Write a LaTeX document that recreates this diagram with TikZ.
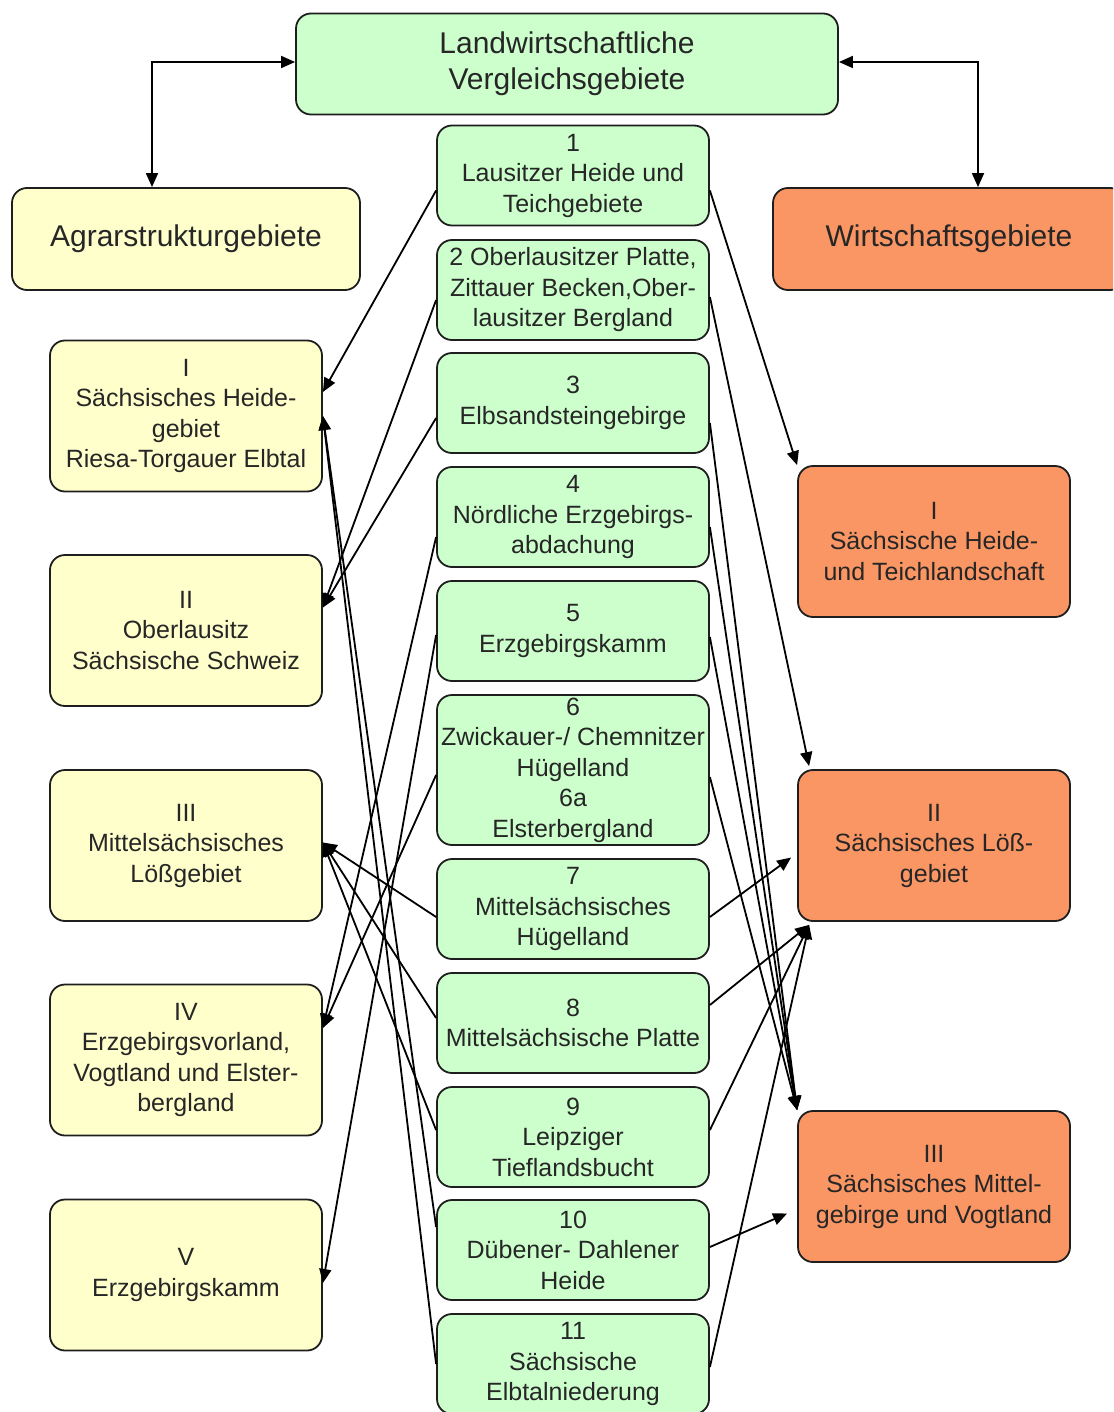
\documentclass[tikz,border=0pt]{standalone}
\usepackage{fontspec}
\setmainfont{Liberation Sans}
\usetikzlibrary{arrows.meta}
\tikzstyle{pixelGrid} = [x = 1pt, y = -1pt]
\definecolor{vergleichGreen}{RGB}{204,255,204}
\definecolor{agrarYellow}{RGB}{255,255,204}
\definecolor{wirtschaftOrange}{RGB}{250,150,100}
\definecolor{borderColor}{RGB}{30,30,30}
\tikzstyle{boxStyle} = [draw=borderColor, line width=1.8pt, rounded corners=15pt, align=center, inner sep=0pt, text=black!85, font=\fontsize{25}{30.5}\selectfont, minimum width=272pt, minimum height=100pt]
\tikzstyle{headStyle} = [boxStyle, font=\fontsize{30}{36}\selectfont, minimum height=101pt]
\tikzstyle{middleStyle} = [boxStyle, fill=vergleichGreen]
\tikzstyle{agrarStyle} = [boxStyle, fill=agrarYellow, minimum height=151pt]
\tikzstyle{wirtschaftStyle} = [boxStyle, fill=wirtschaftOrange, minimum height=151pt]
\tikzstyle{linkLine} = [draw=black, line width=1.8pt, -{Triangle[length=14pt,width=12pt]}]
\tikzstyle{linkBoth} = [draw=black, line width=1.8pt, {Triangle[length=14pt,width=12pt]}-{Triangle[length=14pt,width=12pt]}]
\newcommand{\middleBox}[3]{\node [middleStyle] (#1) at (573, #2) {#3};}
\newcommand{\agrarBox}[3]{\node [agrarStyle] (#1) at (186, #2) {#3};}
\newcommand{\wirtschaftBox}[3]{\node [wirtschaftStyle] (#1) at (934, #2) {#3};}
\newcommand{\linkArrow}[2]{\draw [linkLine] (#1) -- (#2);}

\begin{document}
\begin{tikzpicture}[pixelGrid]
  \useasboundingbox (0,0) rectangle (1113,1412);
  \clip (0,0) rectangle (1113,1412);

  % headers
  \node [headStyle, fill=vergleichGreen, minimum width=542pt] (vergleich) at (567, 64) {Landwirtschaftliche\\Vergleichsgebiete};
  \node [headStyle, fill=agrarYellow, minimum width=348pt, minimum height=102pt] (agrar) at (186, 239) {Agrarstrukturgebiete};
  \node [headStyle, fill=wirtschaftOrange, minimum width=352pt, minimum height=102pt] (wirt) at (949, 239) {Wirtschaftsgebiete};
  \draw [linkBoth] ([yshift=2pt]vergleich.west) -| ([xshift=-34pt]agrar.north);
  \draw [linkBoth] ([yshift=2pt]vergleich.east) -| ([xshift=29pt]wirt.north);

  % Vergleichsgebiete
  \middleBox{m1}{175.5}{1\\Lausitzer Heide und\\Teichgebiete}
  \middleBox{m2}{290}{2 Oberlausitzer Platte,\\Zittauer Becken,Ober-\\lausitzer Bergland}
  \middleBox{m3}{403}{3\\Elbsandsteingebirge}
  \middleBox{m4}{517}{4\\Nördliche Erzgebirgs-\\abdachung}
  \middleBox{m5}{631}{5\\Erzgebirgskamm}
  \node [middleStyle, minimum height=150pt] (m6) at (573, 770) {6\\Zwickauer-/ Chemnitzer\\Hügelland\\6a\\Elsterbergland};
  \middleBox{m7}{909}{7\\Mittelsächsisches\\Hügelland}
  \middleBox{m8}{1023}{8\\Mittelsächsische Platte}
  \middleBox{m9}{1137}{9\\Leipziger\\Tieflandsbucht}
  \middleBox{m10}{1250}{10\\Dübener- Dahlener\\Heide}
  \middleBox{m11}{1364}{11\\Sächsische\\Elbtalniederung}

  % Agrarstrukturgebiete
  \agrarBox{lI}{416}{I\\Sächsisches Heide-\\gebiet\\Riesa-Torgauer Elbtal}
  \agrarBox{lII}{630.5}{II\\Oberlausitz\\Sächsische Schweiz}
  \agrarBox{lIII}{845.5}{III\\Mittelsächsisches\\Lößgebiet}
  \agrarBox{lIV}{1060}{IV\\Erzgebirgsvorland,\\Vogtland und Elster-\\bergland}
  \agrarBox{lV}{1275}{V\\Erzgebirgskamm}

  % Wirtschaftsgebiete
  \wirtschaftBox{rI}{541.5}{I\\Sächsische Heide-\\und Teichlandschaft}
  \wirtschaftBox{rII}{845.5}{II\\Sächsisches Löß-\\gebiet}
  \wirtschaftBox{rIII}{1186.5}{III\\Sächsisches Mittel-\\gebirge und Vogtland}

  % links to the left
  \linkArrow{[yshift=-15pt]m1.west}{[yshift=24pt]lI.east}
  \linkArrow{[yshift=23pt]m10.west}{lI.east}
  \linkArrow{m11.west}{lI.east}
  \linkArrow{[yshift=-10pt]m2.west}{[yshift=23pt]lII.east}
  \linkArrow{[yshift=-15pt]m3.west}{[yshift=23pt]lII.east}
  \linkArrow{[yshift=-8pt]m7.west}{[yshift=3pt]lIII.east}
  \linkArrow{[yshift=5pt]m8.west}{[yshift=3pt]lIII.east}
  \linkArrow{[yshift=7pt]m9.west}{[yshift=3pt]lIII.east}
  \linkArrow{[yshift=-20pt]m4.west}{[yshift=32pt]lIV.east}
  \linkArrow{[yshift=-5pt]m6.west}{[yshift=32pt]lIV.east}
  \linkArrow{[yshift=-4pt]m5.west}{[yshift=-8pt]lV.east}

  % links to the right
  \linkArrow{[yshift=-15pt]m1.east}{rI.north west}
  \linkArrow{[yshift=-7pt]m2.east}{[xshift=12pt,yshift=3pt]rII.north west}
  \linkArrow{[yshift=-8pt]m7.east}{[xshift=-6pt,yshift=-12pt]rII.west}
  \linkArrow{[yshift=18pt]m8.east}{[xshift=12pt,yshift=-3pt]rII.south west}
  \linkArrow{[yshift=7pt]m9.east}{[xshift=12pt,yshift=-3pt]rII.south west}
  \linkArrow{[yshift=-3pt]m11.east}{[xshift=12pt,yshift=-3pt]rII.south west}
  \linkArrow{[yshift=-20pt]m3.east}{rIII.north west}
  \linkArrow{[yshift=-10pt]m4.east}{rIII.north west}
  \linkArrow{[yshift=-6pt]m5.east}{rIII.north west}
  \linkArrow{[yshift=-7pt]m6.east}{rIII.north west}
  \linkArrow{[yshift=3pt]m10.east}{[xshift=-10pt,yshift=-27pt]rIII.west}
\end{tikzpicture}
\end{document}
